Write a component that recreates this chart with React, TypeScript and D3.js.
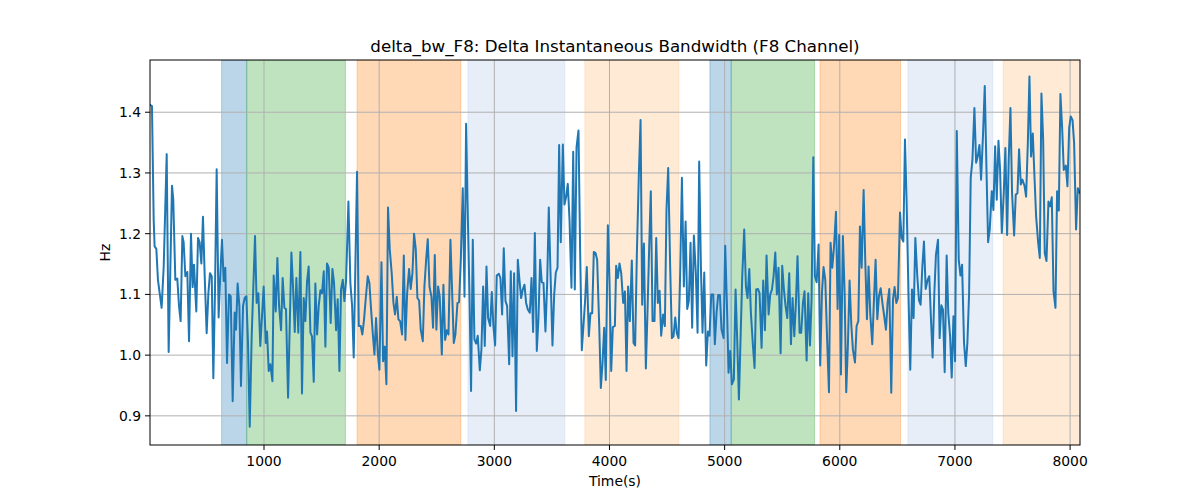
import React from 'react';
import * as d3 from 'd3';

// time stamps (s) and delta bandwidth (Hz)
const times = [
  10, 27, 42, 50, 65, 79, 94, 111, 129, 155, 172, 201, 212, 230, 247, 262, 276, 291, 302, 317,
  334, 349, 366, 380, 392, 412, 427, 441, 456, 470, 485, 502, 517, 531, 546, 560, 574, 589, 606, 621,
  635, 650, 664, 679, 696, 711, 728, 745, 757, 771, 786, 800, 818, 832, 847, 861, 876, 893, 922, 936,
  951, 968, 997, 1015, 1026, 1041, 1055, 1073, 1084, 1102, 1116, 1131, 1148, 1162, 1177, 1191, 1209, 1238, 1252, 1267,
  1281, 1298, 1316, 1330, 1345, 1359, 1374, 1388,
  1403, 1417, 1432, 1446, 1461, 1475, 1490, 1504, 1519, 1533, 1547, 1562, 1579, 1594, 1608, 1626, 1640, 1655, 1669, 1684,
  1698, 1713, 1733, 1750, 1765, 1779, 1808, 1823, 1840, 1854, 1869, 1883, 1901, 1915, 1930, 1944, 1959, 1973, 1988, 2002,
  2020, 2034, 2048, 2063, 2077, 2092, 2109, 2124, 2138, 2153, 2167, 2182, 2199, 2214, 2228, 2243, 2260, 2274, 2289, 2303,
  2318, 2332, 2347, 2361, 2379, 2393, 2408, 2422, 2437, 2454, 2468, 2483, 2497, 2512, 2526, 2544, 2558, 2573, 2587, 2602,
  2619, 2633, 2648, 2662, 2680, 2694, 2709, 2726, 2741, 2755,
  2767, 2784, 2798, 2813, 2827, 2842, 2856, 2874, 2888, 2903, 2917, 2932, 2946, 2964, 2978, 2992, 3007, 3021, 3039, 3053,
  3068, 3082, 3097, 3111, 3129, 3143, 3158, 3172, 3189, 3204, 3218, 3233, 3247, 3262, 3276, 3291, 3308, 3323, 3337, 3352,
  3369, 3383, 3398, 3412, 3427, 3444, 3459, 3473, 3488, 3505, 3520, 3534, 3549, 3563, 3577, 3595, 3609, 3624, 3638, 3653,
  3670, 3685, 3699, 3714, 3731, 3745, 3760, 3774, 3789, 3803, 3821, 3835, 3850, 3864, 3879, 3893, 3911, 3925, 3939, 3954,
  3968, 3986, 4000, 4015, 4029, 4047, 4058, 4073, 4087, 4102, 4119, 4134, 4148, 4162,
  4177, 4194, 4209, 4223, 4238, 4255, 4270, 4284, 4299, 4316, 4330, 4345, 4359, 4374, 4391, 4406, 4420, 4435, 4449, 4466,
  4481, 4495, 4510, 4527, 4542, 4556, 4571, 4585, 4600, 4614, 4629, 4646, 4661, 4675, 4689, 4704, 4718, 4733, 4750, 4765,
  4779, 4794, 4808, 4823, 4840, 4855, 4869, 4884, 4901, 4915, 4930, 4944, 4959, 4973, 4991, 5005, 5020, 5034, 5049, 5063,
  5080, 5095, 5109, 5124, 5153, 5170, 5185, 5199, 5214, 5228, 5246, 5260, 5274, 5289, 5303, 5321, 5335, 5350, 5364, 5382,
  5396, 5411, 5425, 5440, 5454, 5468, 5486, 5500, 5515, 5529, 5544, 5561,
  5576, 5590, 5605, 5619, 5633, 5651, 5665, 5680, 5694, 5712, 5726, 5741, 5755, 5770, 5784, 5799, 5816, 5830, 5845, 5859,
  5874, 5891, 5906, 5920, 5935, 5949, 5967, 5981, 5995, 6010, 6027, 6042, 6056, 6071, 6085, 6100, 6114, 6132, 6146, 6161,
  6175, 6190, 6207, 6221, 6236, 6250, 6265, 6282, 6297, 6311, 6326, 6340, 6355, 6372, 6386, 6401, 6415, 6430, 6447, 6462,
  6476, 6491, 6505, 6523, 6537, 6552, 6566, 6580, 6598, 6612, 6627, 6641, 6656, 6673, 6688, 6702, 6717, 6731, 6746, 6763,
  6777, 6792, 6806, 6821, 6835, 6853, 6867, 6882, 6896, 6911, 6928, 6942,
  6958, 6972, 6987, 7001, 7016, 7033, 7048, 7062, 7079, 7094, 7108, 7123, 7137, 7152, 7169, 7184, 7198, 7213, 7227, 7244,
  7259, 7273, 7288, 7302, 7320, 7334, 7349, 7363, 7378, 7392, 7407, 7424, 7438, 7453, 7467, 7482, 7496, 7514, 7528, 7543,
  7557, 7572, 7586, 7604, 7618, 7633, 7647, 7661, 7676, 7690, 7705, 7722, 7737, 7751, 7766, 7780, 7795, 7812, 7827, 7841,
  7856, 7873, 7887, 7902, 7916, 7931, 7945, 7963, 7977, 7992, 8006, 8021, 8035, 8052, 8067, 8085,
];

const bw = [
  1.412, 1.41, 1.223, 1.179, 1.175, 1.124, 1.102, 1.078, 1.146, 1.331, 1.005, 1.279, 1.256, 1.124, 1.126, 1.081, 1.056, 1.196, 1.186, 1.13,
  1.137, 1.023, 1.2, 1.112, 1.149, 1.072, 1.193, 1.186, 1.151, 1.228, 1.13, 1.036, 1.102, 1.135, 1.13, 0.962, 1.102, 1.306, 1.062, 1.135,
  1.19, 1.122, 1.144, 0.987, 1.1, 1.097, 0.924, 1.07, 1.042, 1.118, 1.081, 0.949, 1.081, 1.094, 1.097, 1.02, 0.882, 1.031, 1.196, 1.086,
  1.102, 1.015, 1.113, 1.02, 1.039, 0.974, 0.985, 0.957, 1.131, 1.072, 1.16, 1.081, 1.041, 1.127, 1.078, 1.076, 0.93, 1.169, 1.113, 1.038,
  1.127, 1.037, 1.17, 0.937, 1.094, 1.056, 1.122, 1.146,
  1.037, 1.031, 0.956, 1.118, 1.034, 1.081, 1.107, 1.102, 1.138, 1.014, 1.151, 1.144, 1.053, 1.142, 1.119, 1.041, 1.092, 0.974, 1.108, 1.124,
  1.089, 1.124, 1.253, 1.119, 1.081, 0.996, 1.302, 1.048, 1.048, 1.034, 1.059, 1.092, 1.13, 1.119, 1.075, 1.037, 1.001, 1.061, 1.004, 0.976,
  1.153, 0.99, 1.014, 0.952, 1.243, 1.174, 1.135, 1.086, 1.067, 1.096, 1.059, 1.056, 1.034, 1.164, 1.025, 1.102, 1.142, 1.109, 1.135, 1.2,
  1.174, 1.094, 1.09, 1.042, 1.023, 1.113, 1.157, 1.191, 1.113, 1.096, 1.045, 1.165, 1.042, 1.113, 1.096, 1.001, 1.116, 1.025, 1.041, 1.034,
  1.19, 1.108, 1.02, 1.034, 1.086, 1.087, 1.157, 1.275, 1.096, 1.381,
  1.256, 1.102, 0.941, 1.19, 1.026, 1.019, 1.032, 0.975, 1.009, 1.113, 1.015, 1.146, 1.061, 1.048, 1.104, 1.048, 1.016, 1.131, 1.134, 1.127,
  1.067, 1.176, 1.089, 1.081, 0.985, 1.138, 0.998, 1.135, 0.908, 1.157, 1.124, 1.094, 1.108, 1.116, 1.086, 1.075, 1.07, 1.127, 1.038, 1.201,
  1.007, 1.059, 1.157, 1.12, 1.119, 1.039, 1.119, 1.243, 1.135, 1.016, 1.1, 1.136, 1.144, 1.346, 1.186, 1.347, 1.248, 1.261, 1.282, 1.223,
  1.111, 1.335, 1.108, 1.342, 1.37, 1.174, 1.008, 1.048, 1.092, 1.145, 1.031, 1.069, 1.069, 1.17, 1.168, 1.157, 1.048, 0.946, 0.985, 1.045,
  0.959, 1.214, 1.124, 0.974, 1.046, 1.048, 1.147, 1.127, 1.151, 1.135, 1.086, 1.105, 0.974, 1.113,
  1.056, 1.156, 1.02, 1.016, 1.168, 1.297, 1.387, 1.083, 1.184, 0.978, 1.07, 1.179, 1.27, 1.056, 1.056, 1.193, 1.086, 1.106, 1.032, 1.067,
  1.048, 1.239, 1.308, 1.146, 1.028, 1.031, 1.062, 1.036, 1.028, 1.135, 1.292, 1.113, 1.22, 1.076, 1.089, 1.185, 1.045, 1.197, 1.135, 1.037,
  1.319, 1.146, 1.037, 1.136, 0.983, 1.039, 1.032, 1.1, 1.1, 1.018, 1.07, 1.099, 1.099, 1.042, 1.028, 1.18, 1.083, 0.971, 1.007, 0.952,
  0.96, 1.108, 1.026, 0.927, 1.13, 1.207, 1.113, 1.094, 1.142, 1.07, 1.015, 0.979, 1.108, 1.109, 1.102, 1.012, 1.123, 1.041, 1.164, 1.067,
  1.1, 1.108, 1.13, 1.169, 1.1, 1.144, 1.003, 1.147, 1.108, 1.081, 1.061, 1.135,
  1.018, 1.094, 1.031, 1.086, 1.163, 1.037, 1.037, 1.086, 1.105, 0.991, 1.102, 1.016, 1.092, 1.326, 1.13, 1.12, 1.182, 0.983, 1.102, 1.145,
  1.124, 1.02, 0.939, 1.185, 1.144, 1.176, 1.236, 1.076, 1.198, 0.968, 1.196, 1.102, 0.939, 1.02, 1.123, 1.05, 1.009, 0.988, 1.048, 1.056,
  1.212, 1.144, 1.272, 1.157, 1.059, 1.146, 1.067, 1.018, 1.092, 1.157, 1.059, 1.097, 1.11, 1.083, 1.064, 1.042, 1.086, 1.109, 0.938, 1.092,
  1.112, 1.086, 1.094, 1.235, 1.193, 1.187, 1.355, 1.256, 1.087, 0.976, 1.108, 1.061, 1.193, 1.13, 1.09, 1.083, 1.146, 1.187, 1.109, 1.124,
  1.13, 1.059, 0.996, 1.102, 1.165, 1.19, 1.028, 1.082, 1.075, 0.972, 1.164, 1.07,
  1.031, 0.963, 1.064, 0.99, 1.369, 1.157, 1.131, 1.149, 1.02, 0.982, 1.02, 1.102, 1.292, 1.322, 1.407, 1.317, 1.327, 1.346, 1.289, 1.364,
  1.443, 1.313, 1.186, 1.207, 1.27, 1.239, 1.344, 1.256, 1.353, 1.305, 1.201, 1.267, 1.341, 1.198, 1.322, 1.407, 1.267, 1.197, 1.264, 1.267,
  1.339, 1.281, 1.289, 1.279, 1.261, 1.349, 1.459, 1.327, 1.365, 1.297, 1.228, 1.187, 1.16, 1.431, 1.355, 1.168, 1.155, 1.253, 1.245, 1.26,
  1.105, 1.078, 1.27, 1.238, 1.43, 1.374, 1.305, 1.312, 1.278, 1.374, 1.393, 1.387, 1.349, 1.207, 1.275, 1.267,
];

// shaded segments: start, end (s) and colour
const bandStart = [632, 850, 1808, 2771, 3786, 4872, 5057, 5828, 6592, 7418];
const bandEnd = [850, 1707, 2709, 3612, 4603, 5057, 5781, 6528, 7328, 8100];
const bandColor = ['#1f77b4', '#2ca02c', '#ff7f0e', '#aec7e8', '#ffbb78', '#1f77b4', '#2ca02c', '#ff7f0e', '#aec7e8', '#ffbb78'];

const xTicks = [1000, 2000, 3000, 4000, 5000, 6000, 7000, 8000];
const yTicks = [0.9, 1.0, 1.1, 1.2, 1.3, 1.4];

const W = 1200;
const H = 500;
const margin = { top: 60, right: 120, bottom: 55, left: 150 };
const font = 'DejaVu Sans, sans-serif';

const App: React.FC = () => {
  const x = d3.scaleLinear().domain([10, 8086]).range([margin.left, W - margin.right]);
  const y = d3.scaleLinear().domain([0.852, 1.486]).range([H - margin.bottom, margin.top]);

  const pts = times.map((t, i) => [t, bw[i]] as [number, number]);
  const line = d3.line<[number, number]>()
    .x(d => x(d[0]))
    .y(d => y(d[1]));

  const left = margin.left;
  const right = W - margin.right;
  const top = margin.top;
  const bottom = H - margin.bottom;
  const cx = (left + right) / 2;

  return (
    <div style={{ position: 'fixed', left: 0, top: 0 }}>
      <svg width={W} height={H} style={{ display: 'block', background: '#fff' }}>
        <defs>
          <clipPath id="plot">
            <rect x={left} y={top} width={right - left} height={bottom - top} />
          </clipPath>
        </defs>

        <g clipPath="url(#plot)">
          {bandStart.map((s, i) => (
            <rect
              key={'b' + i}
              x={x(s)}
              y={top}
              width={x(bandEnd[i]) - x(s)}
              height={bottom - top}
              fill={bandColor[i]}
              fillOpacity={0.3}
              stroke={bandColor[i]}
              strokeOpacity={0.3}
              strokeWidth={1}
            />
          ))}

          {xTicks.map(t => (
            <line key={'gx' + t} x1={x(t)} x2={x(t)} y1={top} y2={bottom} stroke="#b0b0b0" strokeWidth={1} />
          ))}
          {yTicks.map(t => (
            <line key={'gy' + t} x1={left} x2={right} y1={y(t)} y2={y(t)} stroke="#b0b0b0" strokeWidth={1} />
          ))}

          <path d={line(pts) ?? ''} fill="none" stroke="#1f77b4" strokeWidth={2} strokeLinejoin="round" strokeLinecap="square" />
        </g>

        <rect x={left} y={top} width={right - left} height={bottom - top} fill="none" stroke="#000" strokeWidth={1} />

        {xTicks.map(t => (
          <g key={'tx' + t}>
            <line x1={x(t)} x2={x(t)} y1={bottom} y2={bottom + 5} stroke="#000" strokeWidth={1} />
            <text x={x(t)} y={bottom + 10} dy="0.76em" textAnchor="middle" fontFamily={font} fontSize={13.9} fill="#000">
              {t}
            </text>
          </g>
        ))}
        {yTicks.map(t => (
          <g key={'ty' + t}>
            <line x1={left - 5} x2={left} y1={y(t)} y2={y(t)} stroke="#000" strokeWidth={1} />
            <text x={left - 9} y={y(t)} dy="0.35em" textAnchor="end" fontFamily={font} fontSize={13.9} fill="#000">
              {t.toFixed(1)}
            </text>
          </g>
        ))}

        <text x={cx} y={52} textAnchor="middle" fontFamily={font} fontSize={16.7} fill="#000">
          delta_bw_F8: Delta Instantaneous Bandwidth (F8 Channel)
        </text>
        <text x={cx} y={486} textAnchor="middle" fontFamily={font} fontSize={13.9} fill="#000">
          Time(s)
        </text>
        <text
          transform={`translate(110, ${(top + bottom) / 2}) rotate(-90)`}
          textAnchor="middle"
          fontFamily={font}
          fontSize={13.9}
          fill="#000"
        >
          Hz
        </text>
      </svg>
    </div>
  );
};

export default App;
